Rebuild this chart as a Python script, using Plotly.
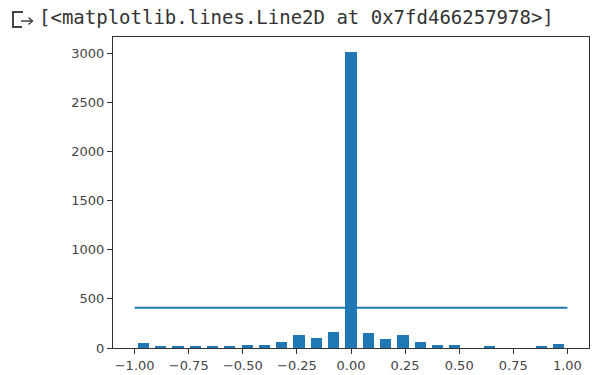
import plotly.graph_objects as go

# Histogram bin centres (25 bins on [-1, 1]) and counts
bin_centers = [-0.96, -0.88, -0.80, -0.72, -0.64, -0.56, -0.48, -0.40, -0.32, -0.24,
               -0.16, -0.08, 0.00, 0.08, 0.16, 0.24, 0.32, 0.40, 0.48, 0.56,
               0.64, 0.72, 0.80, 0.88, 0.96]
counts = [51, 17, 17, 17, 17, 17, 34, 30, 61, 135,
          102, 163, 3016, 153, 92, 135, 61, 34, 34, 0,
          20, 0, 0, 20, 44]

line_x = [-1.0, 1.0]
line_y = [410, 410]

x_ticks = [-1.0, -0.75, -0.5, -0.25, 0.0, 0.25, 0.5, 0.75, 1.0]
x_tick_labels = ["\u22121.00", "\u22120.75", "\u22120.50", "\u22120.25", "0.00", "0.25", "0.50", "0.75", "1.00"]
y_ticks = [0, 500, 1000, 1500, 2000, 2500, 3000]
y_tick_labels = ["0", "500", "1000", "1500", "2000", "2500", "3000"]

header_text = "[<matplotlib.lines.Line2D at 0x7fd466257978>]"

BLUE = "#1f77b4"

fig = go.Figure()
fig.add_trace(go.Bar(x=bin_centers, y=counts, width=0.052,
                     marker=dict(color=BLUE, line=dict(width=0)), showlegend=False))
fig.add_trace(go.Scatter(x=line_x, y=line_y, mode="lines",
                         line=dict(color=BLUE, width=2), showlegend=False))

W, H = 592, 375
L, R, T, B = 113, 3, 37, 27
pw, ph = W - L - R, H - T - B

def px(x):
    return (x - L) / pw

def py(y):
    return (H - B - y) / ph

axis_common = dict(showline=True, linecolor="#333333", linewidth=1, mirror=True,
                   ticks="outside", ticklen=5, tickcolor="#333333", tickwidth=1,
                   showgrid=False, zeroline=False,
                   tickfont=dict(family="DejaVu Sans", size=13, color="#444444"))

fig.update_xaxes(range=[-1.1, 1.1], tickvals=x_ticks, ticktext=x_tick_labels, **axis_common)
fig.update_yaxes(range=[0, 3167], tickvals=y_ticks, ticktext=y_tick_labels, **axis_common)

# Header output icon
icon_color = "#444444"
fig.add_shape(type="path", xref="paper", yref="paper",
              path=f"M {px(23)},{py(12)} L {px(13)},{py(12)} L {px(13)},{py(27)} L {px(22)},{py(27)}",
              line=dict(color=icon_color, width=2))
fig.add_shape(type="line", xref="paper", yref="paper",
              x0=px(21), y0=py(21), x1=px(32), y1=py(21),
              line=dict(color=icon_color, width=1.5))
fig.add_shape(type="path", xref="paper", yref="paper",
              path=f"M {px(28.5)},{py(17.5)} L {px(32.5)},{py(21)} L {px(28.5)},{py(24.5)}",
              line=dict(color=icon_color, width=1.5))

fig.add_annotation(text=header_text, xref="paper", yref="paper",
                   x=px(37), y=py(17), xanchor="left", yanchor="middle", showarrow=False,
                   font=dict(family="DejaVu Sans Mono", size=19, color="#333333"))

fig.update_layout(width=W, height=H, margin=dict(l=L, r=R, t=T, b=B),
                  plot_bgcolor="white", paper_bgcolor="white", bargap=0)

fig.write_html("out.html", config={"displayModeBar": False},
               post_script="document.body.style.margin='0';document.body.style.padding='0';")
